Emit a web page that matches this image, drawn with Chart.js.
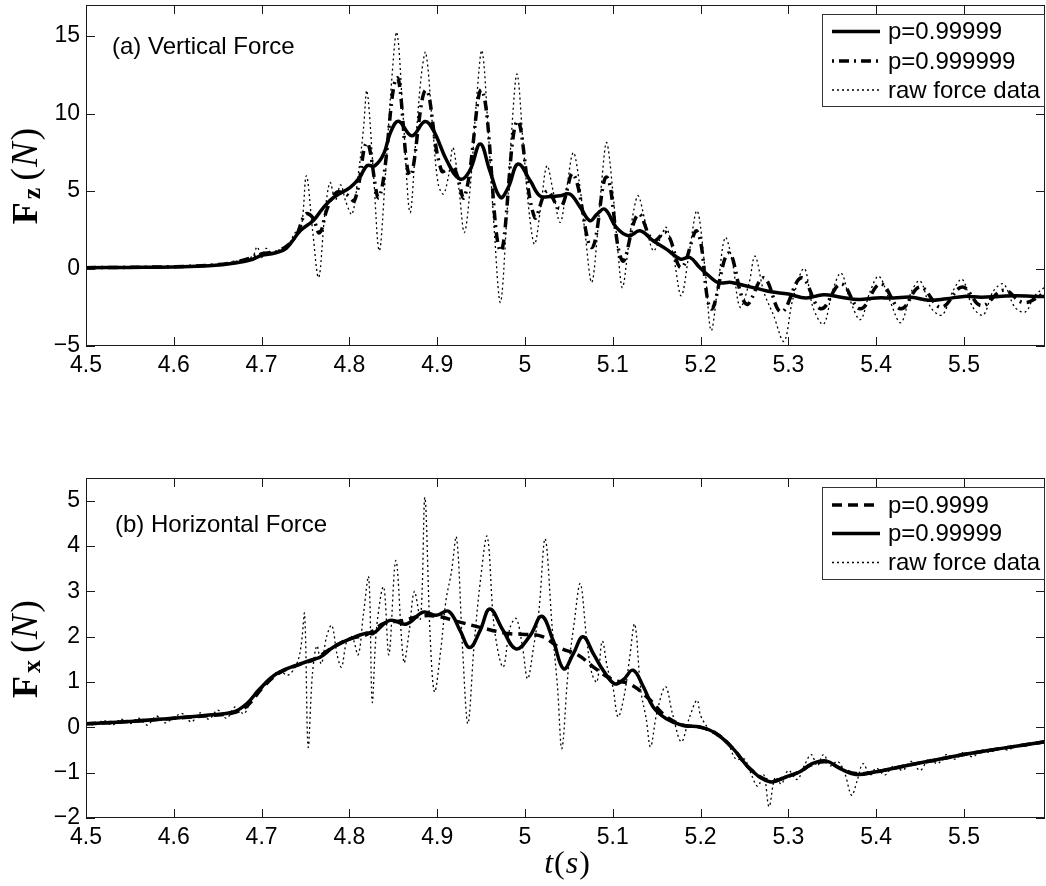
<!DOCTYPE html>
<html>
<head>
<meta charset="utf-8">
<script src="https://cdn.jsdelivr.net/npm/chart.js@4.4.1/dist/chart.umd.min.js"></script>
<style>
html,body{margin:0;padding:0;background:#fff;}
#wrap{position:relative;width:1046px;height:886px;overflow:hidden;}
canvas{position:absolute;left:0;}
</style>
</head>
<body>
<div id="wrap">
<canvas id="c1" width="1046" height="400" style="top:0px;width:1046px;height:400px"></canvas>
<canvas id="c2" width="1046" height="486" style="top:400px;width:1046px;height:486px"></canvas>
</div>
<script>
// ---------- tick labels ----------
const xTicks = [4.5, 4.6, 4.7, 4.8, 4.9, 5.0, 5.1, 5.2, 5.3, 5.4, 5.5];
const fzTicks = [-5, 0, 5, 10, 15];
const fxTicks = [-2, -1, 0, 1, 2, 3, 4, 5];

// ---------- (a) vertical force ----------
// p=0.99999 (solid)
const fzSmoothT = [4.5,4.55,4.6,4.64,4.67,4.69,4.70,4.715,4.728,4.744,4.759,4.770,4.782,4.801,4.812,4.820,4.829,4.839,4.847,4.856,4.871,4.886,4.896,4.911,4.926,4.937,4.949,4.960,4.972,4.981,4.992,5.006,5.017,5.030,5.040,5.051,5.063,5.074,5.082,5.091,5.104,5.118,5.131,5.146,5.161,5.177,5.188,5.199,5.21,5.22,5.235,5.25,5.265,5.28,5.30,5.32,5.34,5.36,5.38,5.40,5.42,5.44,5.46,5.48,5.50,5.52,5.54,5.56,5.58,5.592];
const fzSmoothV = [0.05,0.07,0.1,0.17,0.35,0.6,0.85,1.0,1.3,2.43,3.1,3.9,4.58,5.23,5.9,6.63,6.63,7.38,8.8,9.5,8.56,9.48,8.88,6.95,5.77,6.3,8.03,6.3,4.58,5.23,6.74,5.66,4.69,4.65,4.69,4.8,3.94,3.08,3.5,3.83,2.65,2.11,2.43,1.79,1.25,0.61,0.71,0.06,-0.5,-0.9,-0.9,-1.1,-1.3,-1.5,-1.65,-1.9,-1.7,-1.85,-2.0,-1.9,-1.9,-1.85,-2.05,-1.95,-1.8,-1.85,-1.8,-1.75,-1.8,-1.8];
// p=0.999999 (dash-dot)
const fzFineT = [4.5,4.6,4.65,4.68,4.70,4.72,4.738,4.750,4.758,4.766,4.775,4.785,4.796,4.806,4.820,4.834,4.854,4.869,4.887,4.905,4.918,4.931,4.951,4.972,4.991,5.011,5.025,5.040,5.055,5.076,5.093,5.111,5.129,5.146,5.161,5.178,5.196,5.212,5.232,5.252,5.272,5.292,5.315,5.337,5.36,5.382,5.405,5.428,5.45,5.474,5.498,5.52,5.545,5.568,5.592];
const fzFineV = [0.05,0.12,0.25,0.55,0.95,1.15,2.0,3.5,3.3,2.3,3.9,4.9,4.8,4.4,8.1,4.6,12.3,6.0,11.5,6.3,6.6,4.6,11.5,1.14,9.5,3.3,5.0,3.9,6.1,1.35,5.9,0.5,3.5,1.8,2.3,0.06,2.4,-2.6,1.0,-2.3,-0.6,-2.8,-0.6,-2.6,-1.0,-2.6,-1.0,-2.6,-1.2,-2.5,-1.2,-2.4,-1.4,-2.2,-1.6];
// raw force data (dotted)
const fzRawT = [4.5,4.55,4.6,4.65,4.68,4.69,4.695,4.7,4.705,4.712,4.72,4.73,4.738,4.745,4.751,4.758,4.765,4.772,4.778,4.784,4.79,4.796,4.803,4.81,4.816,4.82,4.827,4.834,4.841,4.848,4.854,4.861,4.869,4.876,4.882,4.887,4.895,4.901,4.907,4.913,4.918,4.925,4.931,4.938,4.945,4.951,4.958,4.965,4.972,4.979,4.985,4.991,4.998,5.005,5.011,5.018,5.025,5.032,5.04,5.047,5.055,5.062,5.069,5.076,5.083,5.088,5.093,5.1,5.106,5.111,5.118,5.124,5.129,5.137,5.146,5.153,5.161,5.17,5.178,5.187,5.196,5.205,5.212,5.22,5.228,5.236,5.245,5.255,5.262,5.272,5.283,5.295,5.305,5.318,5.328,5.34,5.35,5.36,5.37,5.382,5.393,5.403,5.415,5.428,5.44,5.45,5.462,5.475,5.487,5.498,5.51,5.522,5.533,5.545,5.558,5.57,5.58,5.592];
const fzRawV = [0.05,0.08,0.12,0.25,0.6,0.8,1.4,0.7,1.3,1.0,1.2,1.5,2.3,2.6,5.98,2.5,-0.58,3.5,5.55,4.4,5.4,4.3,3.5,6.0,9.0,11.46,6.5,1.14,6.0,12.0,15.23,10.0,3.61,8.5,12.5,13.94,9.0,5.5,4.8,6.0,7.8,5.0,2.32,5.5,11.0,14.05,9.0,2.5,-2.19,3.0,9.0,12.54,8.0,3.5,1.57,4.0,6.63,5.0,2.97,5.0,7.48,5.5,2.0,-0.9,2.5,6.0,8.13,5.0,1.0,-1.23,1.5,3.8,4.69,3.0,1.14,1.8,2.65,0.5,-1.76,1.0,3.72,0.0,-4.0,-1.0,2.0,0.5,-2.5,-1.0,0.8,-1.5,-3.0,-4.7,-2.0,0.0,-2.5,-3.6,-1.5,-0.3,-2.0,-3.3,-1.5,-0.5,-2.0,-3.5,-1.5,-0.8,-2.5,-3.0,-1.5,-0.7,-2.5,-3.0,-1.5,-1.0,-2.5,-2.8,-1.8,-1.2];

// ---------- (b) horizontal force ----------
// p=0.9999 (dashed)
const fxCoarseT = [4.5,4.55,4.6,4.64,4.67,4.685,4.7,4.72,4.745,4.76,4.78,4.8,4.82,4.84,4.86,4.88,4.9,4.92,4.95,4.98,5.0,5.02,5.04,5.06,5.08,5.1,5.12,5.14,5.16,5.18,5.2,5.218,5.237,5.256,5.279,5.298,5.313,5.326,5.343,5.359,5.377,5.4,5.435,5.465,5.503,5.541,5.592];
const fxCoarseV = [0.08,0.13,0.2,0.26,0.33,0.5,0.85,1.2,1.4,1.5,1.75,1.95,2.05,2.3,2.35,2.45,2.45,2.35,2.2,2.07,2.05,2.0,1.75,1.6,1.3,1.05,0.95,0.65,0.25,0.05,0.0,-0.14,-0.47,-0.91,-1.18,-1.09,-0.98,-0.83,-0.76,-0.9,-1.02,-0.98,-0.84,-0.73,-0.59,-0.47,-0.32];
// p=0.99999 (solid)
const fxSmoothT = [4.5,4.55,4.592,4.64,4.668,4.683,4.698,4.717,4.744,4.759,4.767,4.782,4.801,4.82,4.827,4.846,4.865,4.884,4.899,4.913,4.926,4.937,4.949,4.96,4.975,4.99,5.006,5.019,5.032,5.044,5.055,5.066,5.078,5.089,5.102,5.112,5.123,5.135,5.146,5.161,5.18,5.199,5.218,5.237,5.256,5.279,5.298,5.313,5.326,5.343,5.359,5.377,5.4,5.435,5.465,5.503,5.541,5.592];
const fxSmoothV = [0.08,0.13,0.19,0.27,0.34,0.52,0.85,1.18,1.4,1.5,1.55,1.77,1.95,2.08,2.07,2.36,2.28,2.54,2.47,2.56,2.14,1.76,2.14,2.61,2.14,1.73,2.03,2.45,1.92,1.29,1.62,2.0,1.62,1.26,0.96,1.05,1.26,0.89,0.45,0.19,0.04,0.01,-0.14,-0.47,-0.91,-1.2,-1.09,-0.98,-0.81,-0.74,-0.91,-1.04,-0.98,-0.84,-0.73,-0.59,-0.47,-0.32];
// raw force data (dotted)
const fxRawT = [4.5,4.51,4.52,4.53,4.54,4.55,4.56,4.57,4.58,4.59,4.6,4.61,4.62,4.63,4.64,4.65,4.66,4.67,4.68,4.69,4.7,4.71,4.72,4.73,4.74,4.745,4.749,4.753,4.758,4.763,4.768,4.774,4.78,4.786,4.791,4.797,4.803,4.81,4.816,4.822,4.826,4.831,4.839,4.845,4.853,4.862,4.868,4.874,4.881,4.886,4.892,4.897,4.904,4.91,4.916,4.922,4.929,4.935,4.942,4.949,4.957,4.965,4.975,4.983,4.99,4.997,5.003,5.01,5.016,5.023,5.031,5.037,5.042,5.049,5.056,5.063,5.07,5.076,5.082,5.088,5.094,5.1,5.106,5.113,5.119,5.125,5.132,5.138,5.143,5.15,5.16,5.168,5.178,5.187,5.196,5.2,5.21,5.22,5.23,5.24,5.25,5.258,5.265,5.272,5.278,5.285,5.292,5.3,5.31,5.318,5.326,5.333,5.34,5.348,5.356,5.364,5.372,5.378,5.385,5.393,5.4,5.41,5.42,5.43,5.44,5.45,5.46,5.47,5.48,5.49,5.5,5.51,5.52,5.53,5.54,5.55,5.56,5.57,5.58,5.592];
const fxRawV = [0.1,0.05,0.15,0.05,0.18,0.08,0.2,0.05,0.25,0.1,0.22,0.3,0.12,0.32,0.18,0.38,0.2,0.45,0.3,0.7,0.85,1.05,1.25,1.15,1.4,1.8,2.5,-0.43,1.2,1.8,1.4,2.0,2.25,1.6,1.33,1.9,2.0,1.6,2.5,3.31,0.56,2.2,3.1,1.6,3.68,1.44,2.1,3.0,2.4,5.07,2.0,0.78,1.7,2.8,3.4,4.19,1.7,0.08,1.8,3.2,4.21,2.2,1.33,2.2,2.4,1.8,1.07,1.8,2.6,4.16,2.2,0.9,-0.47,1.2,2.3,3.17,2.0,1.2,1.0,1.9,1.3,0.9,0.23,0.7,1.5,2.28,0.8,0.2,-0.43,0.3,0.9,0.3,-0.32,0.2,0.6,0.26,-0.05,-0.2,-0.3,-0.7,-0.7,-1.05,-1.3,-1.05,-1.75,-1.1,-1.25,-0.95,-1.15,-0.85,-0.6,-0.85,-0.6,-0.85,-0.75,-1.0,-1.5,-1.2,-0.8,-1.05,-0.9,-1.05,-0.85,-0.95,-0.75,-0.95,-0.7,-0.8,-0.6,-0.7,-0.55,-0.65,-0.5,-0.55,-0.45,-0.5,-0.4,-0.42,-0.35,-0.32];

const pts = (t, v) => t.map((x, i) => ({x: x, y: v[i]}));

const SANS = '"Liberation Sans", Arial, Helvetica, sans-serif';
const SERIF = '"Liberation Serif", "Times New Roman", serif';
const INK = '#000';

function richLine(ctx, parts, cx, by) {
  let tw = 0;
  parts.forEach(p => { ctx.font = p.f; p.w = ctx.measureText(p.t).width; tw += p.w + (p.gap || 0); });
  let x = cx - tw / 2;
  parts.forEach(p => { ctx.font = p.f; ctx.fillText(p.t, x, by + (p.dy || 0)); x += p.w + (p.gap || 0); });
}

const decor = {
  id: 'decor',
  afterDraw(chart, args, o) {
    const ctx = chart.ctx;
    const a = chart.chartArea;
    const xs = chart.scales.x, ys = chart.scales.y;
    ctx.save();
    // frame
    ctx.strokeStyle = '#1a1a1a';
    ctx.lineWidth = 1;
    ctx.setLineDash([]);
    ctx.strokeRect(Math.round(a.left) + 0.5, Math.round(a.top) + 0.5, Math.round(a.right - a.left) - 1, Math.round(a.bottom - a.top) - 1);
    // inward ticks
    ctx.beginPath();
    const L = 9;
    xs.ticks.forEach(t => {
      const p = Math.round(xs.getPixelForValue(t.value)) + 0.5;
      ctx.moveTo(p, a.bottom); ctx.lineTo(p, a.bottom - L);
      ctx.moveTo(p, a.top); ctx.lineTo(p, a.top + L);
    });
    ys.ticks.forEach(t => {
      const p = Math.round(ys.getPixelForValue(t.value)) + 0.5;
      ctx.moveTo(a.left, p); ctx.lineTo(a.left + L, p);
      ctx.moveTo(a.right, p); ctx.lineTo(a.right - L, p);
    });
    ctx.stroke();

    // annotation
    ctx.fillStyle = INK;
    ctx.font = '24px ' + SANS;
    ctx.textAlign = 'left';
    ctx.textBaseline = 'alphabetic';
    ctx.fillText(o.note, o.noteX, o.noteY);

    // legend
    const lg = o.legend;
    ctx.fillStyle = '#fff';
    ctx.fillRect(lg.x, lg.y, lg.w, lg.h);
    ctx.strokeStyle = '#333';
    ctx.lineWidth = 1;
    ctx.strokeRect(lg.x + 0.5, lg.y + 0.5, lg.w, lg.h);
    chart.data.datasets.forEach((ds) => {
      const row = lg.rows[ds.legendRow];
      ctx.strokeStyle = INK;
      ctx.lineWidth = ds.legendWidth;
      ctx.setLineDash(ds.legendDash);
      ctx.lineCap = 'butt';
      ctx.beginPath();
      ctx.moveTo(lg.x + 10, row); ctx.lineTo(lg.x + 58, row);
      ctx.stroke();
      ctx.setLineDash([]);
      ctx.fillStyle = INK;
      ctx.font = '24px ' + SANS;
      ctx.textAlign = 'left';
      ctx.textBaseline = 'middle';
      ctx.fillText(ds.label, lg.x + 66, row + 1);
    });

    // y axis title (rotated rich text)
    ctx.save();
    ctx.translate(o.yTitleX, o.yTitleY);
    ctx.rotate(-Math.PI / 2);
    ctx.textAlign = 'left';
    ctx.textBaseline = 'alphabetic';
    richLine(ctx, [
      {t: 'F', f: 'bold 36px ' + SERIF, gap: 3},
      {t: o.sub, f: 'bold 26px ' + SERIF, dy: 3, gap: 7},
      {t: '(', f: '38px ' + SERIF, gap: 1},
      {t: 'N', f: 'italic 37px ' + SERIF, gap: 2},
      {t: ')', f: '38px ' + SERIF}
    ], 0, 0);
    ctx.restore();

    // x axis title
    if (o.xTitle) {
      ctx.textAlign = 'left';
      ctx.textBaseline = 'alphabetic';
      richLine(ctx, [
        {t: 't', f: 'italic 32px ' + SERIF, gap: 1},
        {t: '(', f: '32px ' + SERIF, gap: 1},
        {t: 's', f: 'italic 32px ' + SERIF, gap: 1},
        {t: ')', f: '32px ' + SERIF}
      ], o.xTitleX, o.xTitleY);
    }
    ctx.restore();
  }
};

function makeChart(id, cfg) {
  const fmt = v => String(Number(Number(v).toFixed(1)));
  return new Chart(document.getElementById(id), {
    type: 'line',
    data: { datasets: cfg.datasets },
    options: {
      responsive: false,
      animation: false,
      devicePixelRatio: 1,
      layout: { padding: cfg.padding },
      elements: { point: { radius: 0 } },
      plugins: { legend: { display: false }, tooltip: { enabled: false }, decor: cfg.decor },
      scales: {
        x: {
          type: 'linear', min: 4.5, max: 5.5923,
          grid: { display: false, drawTicks: false },
          border: { display: false },
          afterBuildTicks: s => { s.ticks = xTicks.map(v => ({value: v})); },
          afterFit: s => { s.height = cfg.xH; s.paddingLeft = 0; s.paddingRight = 0; },
          ticks: { color: INK, font: { family: SANS, size: 23 }, padding: 6, maxRotation: 0, autoSkip: false, callback: v => fmt(v) }
        },
        y: {
          type: 'linear', min: cfg.yMin, max: cfg.yMax,
          grid: { display: false, drawTicks: false },
          border: { display: false },
          afterBuildTicks: s => { s.ticks = cfg.yTicks.map(v => ({value: v})); },
          afterFit: s => { s.width = 86; s.paddingTop = 0; s.paddingBottom = 0; },
          ticks: { color: INK, font: { family: SANS, size: 23 }, padding: 6, autoSkip: false, callback: v => fmt(v).replace('-', '\u2212') }
        }
      }
    },
    plugins: [decor]
  });
}

// chart (a)
makeChart('c1', {
  padding: { left: 0, right: 1, top: 5, bottom: 0 },
  xH: 54, yMin: -5, yMax: 17, yTicks: fzTicks,
  datasets: [
    { label: 'p=0.99999', data: pts(fzSmoothT, fzSmoothV), borderColor: INK, borderWidth: 3.5, tension: 0.4, legendRow: 0, legendWidth: 3.5, legendDash: [] },
    { label: 'p=0.999999', data: pts(fzFineT, fzFineV), borderColor: INK, borderWidth: 3.5, borderDash: [10, 5, 2, 5], tension: 0.4, legendRow: 1, legendWidth: 3.5, legendDash: [2, 5, 10, 5] },
    { label: 'raw force data', data: pts(fzRawT, fzRawV), borderColor: INK, borderWidth: 1.3, borderDash: [2, 3], tension: 0.35, legendRow: 2, legendWidth: 1.3, legendDash: [2, 3] }
  ],
  decor: {
    note: '(a) Vertical Force', noteX: 112, noteY: 54,
    legend: { x: 822, y: 14, w: 222, h: 92, rows: [31.5, 61, 90] },
    yTitleX: 37, yTitleY: 176, sub: 'z'
  }
});

// chart (b)
makeChart('c2', {
  padding: { left: 0, right: 1, top: 78, bottom: 0 },
  xH: 68, yMin: -2, yMax: 5.5, yTicks: fxTicks,
  datasets: [
    { label: 'p=0.99999', data: pts(fxSmoothT, fxSmoothV), borderColor: INK, borderWidth: 3.5, tension: 0.4, legendRow: 1, legendWidth: 3.5, legendDash: [] },
    { label: 'p=0.9999', data: pts(fxCoarseT, fxCoarseV), borderColor: INK, borderWidth: 3.5, borderDash: [10, 6], tension: 0.4, legendRow: 0, legendWidth: 3.5, legendDash: [10, 6] },
    { label: 'raw force data', data: pts(fxRawT, fxRawV), borderColor: INK, borderWidth: 1.3, borderDash: [2, 3], tension: 0.35, legendRow: 2, legendWidth: 1.3, legendDash: [2, 3] }
  ],
  decor: {
    note: '(b) Horizontal Force', noteX: 115, noteY: 131.5,
    legend: { x: 822, y: 87, w: 222, h: 92, rows: [105, 133.5, 162.5] },
    yTitleX: 37, yTitleY: 249, sub: 'x',
    xTitle: true, xTitleX: 567, xTitleY: 473
  }
});
</script>
</body>
</html>
